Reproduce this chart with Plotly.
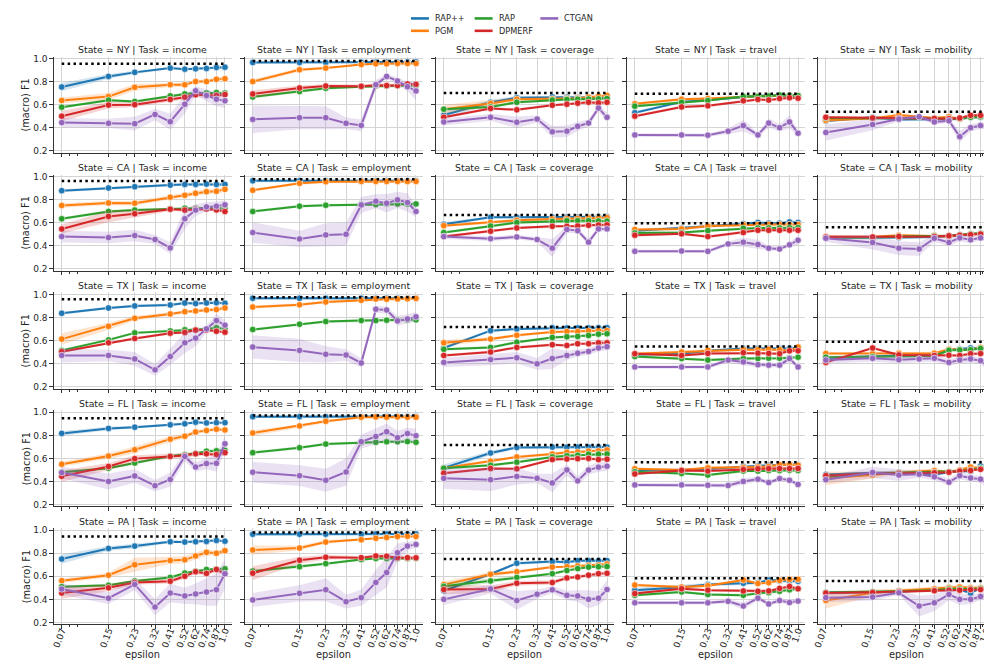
import plotly.graph_objects as go

# ---------------- data ----------------
EPSILON = [0.07, 0.15, 0.23, 0.32, 0.41, 0.52, 0.62, 0.74, 0.87, 1.0]
EPS_LABELS = ["0.07", "0.15", "0.23", "0.32", "0.41", "0.52", "0.62", "0.74", "0.87", "1.0"]
MINOR_TICKS = [0.08, 0.09, 0.2, 0.3, 0.4, 0.5, 0.6, 0.7, 0.8, 0.9]
Y_TICKS = [0.2, 0.4, 0.6, 0.8, 1.0]
Y_LABELS = ["0.2", "0.4", "0.6", "0.8", "1.0"]
STATES = ["NY", "CA", "TX", "FL", "PA"]
TASKS = ["income", "employment", "coverage", "travel", "mobility"]
METHODS = ["RAP++", "PGM", "RAP", "DPMERF", "CTGAN"]
COLORS = {"RAP++": "#1f77b4", "PGM": "#ff7f0e", "RAP": "#2ca02c",
          "DPMERF": "#d62728", "CTGAN": "#9467bd"}
DEFAULT_CI = 0.012
N = None

# baseline (dotted black line), per state, in TASKS order
BASELINE_NY = [0.955, 0.978, 0.700, 0.695, 0.538]
BASELINE_CA = [0.960, 0.975, 0.665, 0.595, 0.560]
BASELINE_TX = [0.958, 0.975, 0.718, 0.548, 0.590]
BASELINE_FL = [0.948, 0.972, 0.717, 0.567, 0.567]
BASELINE_PA = [0.946, 0.980, 0.750, 0.583, 0.560]

# ---- NY ----
NY_INCOME = {
    "RAP++": [0.753, 0.845, 0.880, N, 0.917, 0.908, 0.911, 0.914, 0.923, 0.925],
    "PGM": [0.636, 0.670, 0.750, N, 0.773, 0.773, 0.800, 0.800, 0.820, 0.825],
    "RAP": [0.578, 0.639, 0.627, N, 0.676, 0.693, 0.700, 0.700, 0.705, 0.700],
    "DPMERF": [0.500, 0.596, 0.600, N, 0.645, 0.665, 0.685, 0.680, 0.680, 0.687],
    "CTGAN": [0.444, 0.438, 0.435, 0.515, 0.452, 0.604, 0.720, 0.680, 0.647, 0.633],
}
NY_INCOME_CI = {
    "RAP++": [0.035, 0.02, 0.015, 0, 0.01, 0.01, 0.01, 0.01, 0.01, 0.01],
    "PGM": [0.025, 0.03, 0.03, 0, 0.02, 0.02, 0.015, 0.015, 0.015, 0.015],
    "DPMERF": [0.045, 0.03, 0.02, 0, 0.02, 0.02, 0.02, 0.02, 0.02, 0.02],
    "CTGAN": [0.04, 0.04, 0.06, 0.05, 0.07, 0.08, 0.04, 0.05, 0.06, 0.06],
}
NY_EMPLOYMENT = {
    "RAP++": [0.966, 0.966, 0.966, N, 0.967, 0.967, 0.968, 0.968, 0.969, 0.970],
    "PGM": [0.800, 0.903, 0.917, N, 0.948, 0.954, 0.954, 0.957, 0.958, 0.957],
    "RAP": [0.667, 0.713, 0.742, N, 0.756, 0.762, 0.762, 0.763, 0.764, 0.765],
    "DPMERF": [0.693, 0.745, 0.762, N, 0.759, 0.768, 0.765, 0.765, 0.780, 0.776],
    "CTGAN": [0.472, 0.487, 0.487, 0.438, 0.420, 0.773, 0.845, 0.805, 0.756, 0.719],
}
NY_EMPLOYMENT_CI = {
    "RAP++": 0.008,
    "PGM": [0.02, 0.015, 0.01, 0, 0.008, 0.008, 0.008, 0.008, 0.008, 0.008],
    "DPMERF": [0.03, 0.02, 0.015, 0, 0.015, 0.015, 0.015, 0.015, 0.015, 0.015],
    "CTGAN": [0.12, 0.10, 0.10, 0.05, 0.05, 0.04, 0.02, 0.03, 0.04, 0.08],
}
NY_COVERAGE = {
    "RAP++": [0.510, 0.620, 0.660, N, 0.667, 0.665, 0.663, 0.665, 0.663, 0.665],
    "PGM": [0.560, 0.610, 0.647, N, 0.650, 0.653, 0.655, 0.665, 0.673, 0.680],
    "RAP": [0.560, 0.580, 0.620, N, 0.640, 0.645, 0.647, 0.648, 0.650, 0.653],
    "DPMERF": [0.490, 0.567, 0.555, N, 0.595, 0.604, 0.613, 0.620, 0.615, 0.620],
    "CTGAN": [0.450, 0.490, 0.447, 0.475, 0.364, 0.370, 0.412, 0.440, 0.570, 0.490],
}
NY_COVERAGE_CI = {
    "RAP++": [0.03, 0.02, 0.015, 0, 0.01, 0.01, 0.01, 0.01, 0.01, 0.01],
    "PGM": [0.04, 0.03, 0.015, 0, 0.01, 0.01, 0.01, 0.01, 0.01, 0.01],
    "CTGAN": [0.03, 0.03, 0.05, 0.03, 0.05, 0.05, 0.04, 0.03, 0.03, 0.04],
}
NY_TRAVEL = {
    "RAP++": [0.530, 0.624, 0.640, N, 0.670, 0.676, 0.677, 0.678, 0.680, 0.680],
    "PGM": [0.607, 0.647, 0.653, N, 0.670, 0.672, 0.675, 0.680, 0.682, 0.680],
    "RAP": [0.587, 0.620, 0.636, N, 0.670, 0.670, 0.675, 0.683, 0.680, 0.678],
    "DPMERF": [0.500, 0.580, 0.590, N, 0.633, 0.645, 0.640, 0.653, 0.660, 0.656],
    "CTGAN": [0.337, 0.337, 0.335, 0.370, 0.418, 0.337, 0.440, 0.400, 0.450, 0.352],
}
NY_TRAVEL_CI = {
    "CTGAN": [0.015, 0.015, 0.015, 0.02, 0.05, 0.02, 0.04, 0.03, 0.06, 0.02],
}
NY_MOBILITY = {
    "RAP++": [0.458, 0.490, 0.470, N, 0.470, 0.472, 0.475, 0.490, 0.490, 0.500],
    "PGM": [0.464, 0.480, 0.510, N, 0.484, 0.495, 0.475, 0.500, 0.503, 0.500],
    "RAP": [0.485, 0.485, 0.480, N, 0.478, 0.480, 0.480, 0.490, 0.495, 0.495],
    "DPMERF": [0.490, 0.484, 0.484, N, 0.480, 0.478, 0.484, 0.507, 0.507, 0.500],
    "CTGAN": [0.358, 0.427, 0.475, 0.495, 0.450, 0.460, 0.322, 0.400, 0.418, 0.406],
}
NY_MOBILITY_CI = {
    "CTGAN": [0.07, 0.05, 0.02, 0.02, 0.02, 0.02, 0.05, 0.03, 0.03, 0.02],
}

# ---- CA ----
CA_INCOME = {
    "RAP++": [0.877, 0.900, 0.911, N, 0.925, 0.931, 0.931, 0.934, 0.931, 0.931],
    "PGM": [0.748, 0.770, 0.768, N, 0.820, 0.837, 0.854, 0.868, 0.871, 0.888],
    "RAP": [0.633, 0.696, 0.708, N, 0.719, 0.725, 0.725, 0.727, 0.722, 0.725],
    "DPMERF": [0.544, 0.653, 0.676, N, 0.716, 0.708, 0.716, 0.718, 0.710, 0.696],
    "CTGAN": [0.478, 0.470, 0.487, 0.453, 0.380, 0.633, 0.708, 0.736, 0.742, 0.754],
}
CA_INCOME_CI = {
    "PGM": 0.02,
    "DPMERF": [0.04, 0.05, 0.03, 0, 0.015, 0.015, 0.015, 0.015, 0.015, 0.015],
    "CTGAN": [0.05, 0.05, 0.05, 0.04, 0.05, 0.09, 0.05, 0.04, 0.04, 0.04],
}
CA_EMPLOYMENT = {
    "RAP++": [0.962, 0.962, 0.962, N, 0.962, 0.962, 0.962, 0.963, 0.963, 0.963],
    "PGM": [0.880, 0.940, 0.954, N, 0.957, 0.957, 0.957, 0.957, 0.957, 0.957],
    "RAP": [0.696, 0.742, 0.750, N, 0.756, 0.756, 0.762, 0.762, 0.762, 0.762],
    "CTGAN": [0.513, 0.458, 0.493, 0.498, 0.753, 0.785, 0.768, 0.797, 0.774, 0.696],
}
CA_EMPLOYMENT_CI = {
    "CTGAN": [0.09, 0.07, 0.10, 0.10, 0.07, 0.06, 0.08, 0.07, 0.08, 0.05],
}
CA_COVERAGE = {
    "RAP++": [0.585, 0.645, 0.645, N, 0.645, 0.647, 0.647, 0.647, 0.650, 0.650],
    "PGM": [0.573, 0.600, 0.620, N, 0.630, 0.633, 0.636, 0.640, 0.640, 0.642],
    "RAP": [0.513, 0.570, 0.600, N, 0.610, 0.616, 0.616, 0.616, 0.613, 0.613],
    "DPMERF": [0.480, 0.525, 0.553, N, 0.567, 0.567, 0.570, 0.576, 0.578, 0.580],
    "CTGAN": [0.478, 0.460, 0.475, 0.453, 0.378, 0.540, 0.530, 0.430, 0.545, 0.545],
}
CA_COVERAGE_CI = {
    "RAP++": [0.02, 0.01, 0.01, 0, 0.01, 0.01, 0.01, 0.01, 0.01, 0.01],
    "CTGAN": [0.02, 0.02, 0.02, 0.02, 0.08, 0.03, 0.02, 0.03, 0.02, 0.02],
}
CA_TRAVEL = {
    "RAP++": [0.530, 0.550, 0.567, N, 0.590, 0.600, 0.595, 0.595, 0.605, 0.600],
    "PGM": [0.540, 0.545, 0.570, N, 0.580, 0.583, 0.583, 0.583, 0.583, 0.583],
    "RAP": [0.510, 0.513, 0.530, N, 0.550, 0.553, 0.553, 0.553, 0.555, 0.556],
    "DPMERF": [0.490, 0.503, 0.478, N, 0.513, 0.533, 0.533, 0.533, 0.533, 0.533],
    "CTGAN": [0.350, 0.353, 0.350, 0.415, 0.430, 0.410, 0.378, 0.370, 0.407, 0.447],
}
CA_TRAVEL_CI = {
    "CTGAN": [0.015, 0.015, 0.015, 0.02, 0.04, 0.04, 0.02, 0.02, 0.02, 0.04],
}
CA_MOBILITY = {
    "RAP++": [0.470, 0.467, 0.470, N, 0.475, 0.480, 0.490, 0.500, 0.505, 0.512],
    "PGM": [0.480, 0.475, 0.490, N, 0.487, 0.480, 0.495, 0.500, 0.500, 0.510],
    "RAP": [0.470, 0.470, 0.480, N, 0.485, 0.485, 0.495, 0.500, 0.505, 0.510],
    "DPMERF": [0.475, 0.475, 0.480, N, 0.480, 0.485, 0.490, 0.495, 0.500, 0.505],
    "CTGAN": [0.464, 0.427, 0.378, 0.370, 0.464, 0.427, 0.467, 0.450, 0.467, 0.455],
}
CA_MOBILITY_CI = {
    "CTGAN": [0.03, 0.06, 0.06, 0.06, 0.03, 0.03, 0.03, 0.03, 0.02, 0.02],
}

# ---- TX ----
TX_INCOME = {
    "RAP++": [0.836, 0.882, 0.900, N, 0.908, 0.925, 0.920, 0.925, 0.928, 0.922],
    "PGM": [0.612, 0.723, 0.792, N, 0.830, 0.850, 0.856, 0.865, 0.868, 0.882],
    "RAP": [0.514, 0.605, 0.666, N, 0.683, 0.693, 0.693, 0.700, 0.710, 0.700],
    "DPMERF": [0.503, 0.580, 0.617, N, 0.663, 0.670, 0.690, 0.690, 0.680, 0.672],
    "CTGAN": [0.470, 0.470, 0.440, 0.345, 0.460, 0.580, 0.620, 0.700, 0.773, 0.733],
}
TX_INCOME_CI = {
    "PGM": [0.05, 0.03, 0.02, 0, 0.015, 0.015, 0.015, 0.015, 0.015, 0.015],
    "CTGAN": [0.06, 0.05, 0.06, 0.05, 0.07, 0.09, 0.07, 0.03, 0.06, 0.04],
}
TX_EMPLOYMENT = {
    "RAP++": [0.966, 0.966, 0.966, N, 0.966, 0.966, 0.967, 0.967, 0.967, 0.967],
    "PGM": [0.890, 0.910, 0.934, N, 0.948, 0.960, 0.958, 0.960, 0.962, 0.965],
    "RAP": [0.695, 0.741, 0.764, N, 0.773, 0.773, 0.776, 0.777, 0.778, 0.779],
    "CTGAN": [0.543, 0.514, 0.480, 0.474, 0.405, 0.871, 0.865, 0.770, 0.787, 0.805],
}
TX_EMPLOYMENT_CI = {
    "CTGAN": [0.10, 0.10, 0.07, 0.05, 0.04, 0.03, 0.03, 0.04, 0.04, 0.04],
}
TX_COVERAGE = {
    "RAP++": [0.535, 0.685, 0.700, N, 0.710, 0.708, 0.708, 0.708, 0.710, 0.710],
    "PGM": [0.580, 0.613, 0.645, N, 0.673, 0.677, 0.677, 0.683, 0.685, 0.685],
    "RAP": [0.523, 0.540, 0.585, N, 0.626, 0.632, 0.635, 0.643, 0.655, 0.658],
    "DPMERF": [0.470, 0.500, 0.540, N, 0.563, 0.557, 0.572, 0.572, 0.580, 0.580],
    "CTGAN": [0.410, 0.434, 0.450, 0.397, 0.443, 0.470, 0.490, 0.505, 0.535, 0.546],
}
TX_COVERAGE_CI = {
    "PGM": [0.025, 0.015, 0.012, 0, 0.01, 0.01, 0.01, 0.01, 0.01, 0.01],
    "CTGAN": [0.04, 0.05, 0.05, 0.05, 0.09, 0.04, 0.03, 0.03, 0.03, 0.03],
}
TX_TRAVEL = {
    "RAP++": [0.478, 0.485, 0.510, N, 0.530, 0.530, 0.530, 0.530, 0.530, 0.540],
    "PGM": [0.485, 0.500, 0.515, N, 0.520, 0.520, 0.523, 0.520, 0.510, 0.543],
    "RAP": [0.460, 0.443, 0.430, N, 0.443, 0.443, 0.446, 0.446, 0.450, 0.455],
    "DPMERF": [0.485, 0.470, 0.488, N, 0.494, 0.490, 0.488, 0.485, 0.510, 0.510],
    "CTGAN": [0.370, 0.370, 0.370, 0.430, 0.414, 0.390, 0.386, 0.386, 0.443, 0.370],
}
TX_TRAVEL_CI = {
    "CTGAN": [0.015, 0.015, 0.015, 0.02, 0.03, 0.02, 0.02, 0.02, 0.03, 0.02],
}
TX_MOBILITY = {
    "RAP++": [0.447, 0.465, 0.470, N, 0.470, 0.520, 0.525, 0.535, 0.532, 0.530],
    "PGM": [0.486, 0.486, 0.490, N, 0.490, 0.523, 0.520, 0.517, 0.540, 0.530],
    "RAP": [0.455, 0.458, 0.465, N, 0.465, 0.515, 0.518, 0.520, 0.530, 0.530],
    "DPMERF": [0.410, 0.535, 0.475, N, 0.470, 0.472, 0.470, 0.485, 0.486, 0.486],
    "CTGAN": [0.430, 0.445, 0.433, 0.440, 0.445, 0.410, 0.430, 0.440, 0.425, 0.370],
}
TX_MOBILITY_CI = {
    "CTGAN": [0.03, 0.03, 0.03, 0.03, 0.03, 0.03, 0.03, 0.03, 0.03, 0.05],
}

# ---- FL ----
FL_INCOME = {
    "RAP++": [0.817, 0.860, 0.871, N, 0.891, 0.900, 0.914, 0.908, 0.910, 0.910],
    "PGM": [0.550, 0.620, 0.675, N, 0.767, 0.793, 0.828, 0.842, 0.853, 0.847],
    "RAP": [0.480, 0.515, 0.560, N, 0.620, 0.634, 0.643, 0.663, 0.666, 0.670],
    "DPMERF": [0.445, 0.530, 0.598, N, 0.617, 0.626, 0.640, 0.640, 0.634, 0.650],
    "CTGAN": [0.477, 0.400, 0.448, 0.363, 0.417, 0.617, 0.525, 0.555, 0.557, 0.727],
}
FL_INCOME_CI = {
    "RAP++": [0.02, 0.015, 0.012, 0, 0.01, 0.01, 0.01, 0.01, 0.01, 0.01],
    "PGM": [0.02, 0.025, 0.03, 0, 0.025, 0.02, 0.015, 0.015, 0.015, 0.015],
    "DPMERF": [0.05, 0.03, 0.03, 0, 0.02, 0.02, 0.02, 0.02, 0.02, 0.02],
    "CTGAN": [0.05, 0.07, 0.06, 0.05, 0.06, 0.04, 0.04, 0.05, 0.07, 0.07],
}
FL_EMPLOYMENT = {
    "RAP++": [0.962, 0.962, 0.962, N, 0.962, 0.962, 0.963, 0.963, 0.963, 0.963],
    "PGM": [0.820, 0.882, 0.922, N, 0.957, 0.960, 0.958, 0.960, 0.958, 0.957],
    "RAP": [0.650, 0.693, 0.724, N, 0.738, 0.740, 0.744, 0.744, 0.746, 0.740],
    "CTGAN": [0.480, 0.450, 0.410, 0.482, 0.745, 0.790, 0.832, 0.780, 0.815, 0.797],
}
FL_EMPLOYMENT_CI = {
    "PGM": [0.025, 0.015, 0.012, 0, 0.008, 0.008, 0.008, 0.008, 0.008, 0.008],
    "CTGAN": [0.09, 0.09, 0.10, 0.12, 0.06, 0.07, 0.07, 0.06, 0.05, 0.06],
}
FL_COVERAGE = {
    "RAP++": [0.518, 0.647, 0.695, N, 0.698, 0.697, 0.698, 0.698, 0.698, 0.698],
    "PGM": [0.515, 0.575, 0.613, N, 0.638, 0.653, 0.655, 0.663, 0.665, 0.673],
    "RAP": [0.515, 0.540, 0.567, N, 0.613, 0.622, 0.627, 0.636, 0.637, 0.638],
    "DPMERF": [0.472, 0.512, 0.510, N, 0.590, 0.595, 0.598, 0.600, 0.590, 0.593],
    "CTGAN": [0.427, 0.415, 0.444, 0.427, 0.387, 0.500, 0.405, 0.499, 0.524, 0.532],
}
FL_COVERAGE_CI = {
    "RAP++": [0.03, 0.02, 0.012, 0, 0.01, 0.01, 0.01, 0.01, 0.01, 0.01],
    "CTGAN": [0.09, 0.10, 0.07, 0.04, 0.08, 0.05, 0.04, 0.04, 0.04, 0.04],
}
FL_TRAVEL = {
    "RAP++": [0.500, 0.500, 0.507, N, 0.530, 0.535, 0.540, 0.540, 0.547, 0.545],
    "PGM": [0.510, 0.500, 0.518, N, 0.520, 0.525, 0.530, 0.545, 0.547, 0.540],
    "RAP": [0.484, 0.470, 0.455, N, 0.490, 0.490, 0.495, 0.495, 0.498, 0.496],
    "DPMERF": [0.465, 0.496, 0.490, N, 0.505, 0.510, 0.512, 0.512, 0.512, 0.513],
    "CTGAN": [0.370, 0.370, 0.367, 0.365, 0.400, 0.420, 0.390, 0.425, 0.410, 0.374],
}
FL_TRAVEL_CI = {
    "CTGAN": [0.015, 0.015, 0.015, 0.02, 0.03, 0.02, 0.02, 0.02, 0.02, 0.02],
}
FL_MOBILITY = {
    "RAP++": [0.460, 0.475, 0.475, N, 0.460, 0.480, 0.490, 0.488, 0.533, 0.530],
    "PGM": [0.427, 0.455, 0.478, N, 0.496, 0.483, 0.500, 0.525, 0.515, 0.490],
    "RAP": [0.440, 0.470, 0.475, N, 0.480, 0.485, 0.490, 0.500, 0.515, 0.520],
    "DPMERF": [0.450, 0.470, 0.470, N, 0.475, 0.480, 0.490, 0.495, 0.505, 0.510],
    "CTGAN": [0.415, 0.478, 0.455, 0.463, 0.440, 0.394, 0.450, 0.430, 0.420, 0.377],
}
FL_MOBILITY_CI = {
    "PGM": [0.06, 0.03, 0.02, 0, 0.015, 0.015, 0.015, 0.015, 0.015, 0.015],
    "CTGAN": [0.03, 0.05, 0.05, 0.03, 0.03, 0.03, 0.03, 0.03, 0.03, 0.05],
}

# ---- PA ----
PA_INCOME = {
    "RAP++": [0.750, 0.842, 0.862, N, 0.900, 0.897, 0.900, 0.903, 0.911, 0.905],
    "PGM": [0.562, 0.610, 0.700, N, 0.737, 0.743, 0.777, 0.808, 0.800, 0.822],
    "RAP": [0.510, 0.522, 0.560, N, 0.590, 0.628, 0.643, 0.660, 0.663, 0.665],
    "DPMERF": [0.455, 0.500, 0.547, N, 0.557, 0.600, 0.640, 0.625, 0.660, 0.622],
    "CTGAN": [0.490, 0.410, 0.530, 0.333, 0.455, 0.430, 0.447, 0.464, 0.484, 0.622],
}
PA_INCOME_CI = {
    "RAP++": [0.04, 0.02, 0.02, 0, 0.01, 0.01, 0.01, 0.01, 0.01, 0.01],
    "PGM": [0.02, 0.02, 0.06, 0, 0.03, 0.03, 0.03, 0.03, 0.02, 0.02],
    "DPMERF": [0.05, 0.03, 0.02, 0, 0.02, 0.02, 0.02, 0.02, 0.02, 0.02],
    "CTGAN": [0.05, 0.05, 0.05, 0.07, 0.08, 0.07, 0.09, 0.12, 0.14, 0.13],
}
PA_EMPLOYMENT = {
    "RAP++": [0.965, 0.965, 0.966, N, 0.966, 0.967, 0.967, 0.967, 0.968, 0.968],
    "PGM": [0.828, 0.845, 0.897, N, 0.917, 0.930, 0.937, 0.946, 0.948, 0.946],
    "RAP": [0.645, 0.683, 0.710, N, 0.746, 0.755, 0.755, 0.755, 0.755, 0.755],
    "DPMERF": [0.627, 0.740, 0.765, N, 0.762, 0.777, 0.774, 0.762, 0.762, 0.760],
    "CTGAN": [0.395, 0.452, 0.484, 0.380, 0.415, 0.547, 0.633, 0.805, 0.862, 0.877],
}
PA_EMPLOYMENT_CI = {
    "PGM": [0.04, 0.02, 0.015, 0, 0.01, 0.01, 0.01, 0.01, 0.01, 0.01],
    "DPMERF": [0.06, 0.03, 0.02, 0, 0.015, 0.015, 0.015, 0.015, 0.015, 0.015],
    "CTGAN": [0.06, 0.07, 0.10, 0.06, 0.07, 0.11, 0.13, 0.08, 0.04, 0.03],
}
PA_COVERAGE = {
    "RAP++": [0.475, 0.620, 0.713, N, 0.728, 0.722, 0.736, 0.736, 0.736, 0.736],
    "PGM": [0.528, 0.617, 0.640, N, 0.680, 0.683, 0.690, 0.693, 0.697, 0.707],
    "RAP": [0.513, 0.560, 0.590, N, 0.623, 0.650, 0.667, 0.680, 0.683, 0.685],
    "DPMERF": [0.485, 0.490, 0.540, N, 0.546, 0.586, 0.594, 0.610, 0.623, 0.626],
    "CTGAN": [0.400, 0.490, 0.390, 0.445, 0.483, 0.435, 0.430, 0.400, 0.410, 0.485],
}
PA_COVERAGE_CI = {
    "PGM": [0.03, 0.02, 0.015, 0, 0.01, 0.01, 0.01, 0.01, 0.01, 0.01],
    "RAP": [0.03, 0.02, 0.015, 0, 0.01, 0.01, 0.01, 0.01, 0.01, 0.01],
    "DPMERF": [0.04, 0.03, 0.02, 0, 0.02, 0.015, 0.015, 0.015, 0.015, 0.015],
    "CTGAN": [0.05, 0.04, 0.08, 0.04, 0.03, 0.04, 0.05, 0.08, 0.06, 0.08],
}
PA_TRAVEL = {
    "RAP++": [0.480, 0.505, 0.528, N, 0.540, 0.545, 0.567, 0.560, 0.560, 0.557],
    "PGM": [0.524, 0.507, 0.518, N, 0.568, 0.537, 0.545, 0.565, 0.574, 0.574],
    "RAP": [0.435, 0.464, 0.443, N, 0.435, 0.452, 0.458, 0.470, 0.483, 0.490],
    "DPMERF": [0.450, 0.492, 0.480, N, 0.473, 0.470, 0.473, 0.495, 0.512, 0.492],
    "CTGAN": [0.370, 0.370, 0.370, 0.383, 0.342, 0.410, 0.360, 0.390, 0.372, 0.385],
}
PA_TRAVEL_CI = {
    "RAP++": [0.02, 0.02, 0.015, 0, 0.015, 0.015, 0.015, 0.015, 0.015, 0.015],
    "CTGAN": [0.015, 0.015, 0.015, 0.02, 0.03, 0.02, 0.02, 0.02, 0.02, 0.02],
}
PA_MOBILITY = {
    "RAP++": [0.460, 0.460, 0.466, N, 0.486, 0.500, 0.483, 0.455, 0.497, 0.486],
    "PGM": [0.390, 0.457, 0.475, N, 0.493, 0.500, 0.507, 0.500, 0.500, 0.500],
    "RAP": [0.460, 0.465, 0.470, N, 0.480, 0.490, 0.490, 0.490, 0.495, 0.493],
    "DPMERF": [0.455, 0.460, 0.465, N, 0.475, 0.480, 0.480, 0.485, 0.485, 0.485],
    "CTGAN": [0.415, 0.420, 0.457, 0.342, 0.370, 0.443, 0.400, 0.400, 0.425, 0.445],
}
PA_MOBILITY_CI = {
    "PGM": [0.07, 0.03, 0.02, 0, 0.015, 0.015, 0.015, 0.015, 0.015, 0.015],
    "CTGAN": [0.04, 0.03, 0.02, 0.09, 0.07, 0.05, 0.05, 0.04, 0.03, 0.03],
}

# tables assembled from the named arrays above
PANELS = {
    "NY": [(NY_INCOME, NY_INCOME_CI), (NY_EMPLOYMENT, NY_EMPLOYMENT_CI), (NY_COVERAGE, NY_COVERAGE_CI),
           (NY_TRAVEL, NY_TRAVEL_CI), (NY_MOBILITY, NY_MOBILITY_CI)],
    "CA": [(CA_INCOME, CA_INCOME_CI), (CA_EMPLOYMENT, CA_EMPLOYMENT_CI), (CA_COVERAGE, CA_COVERAGE_CI),
           (CA_TRAVEL, CA_TRAVEL_CI), (CA_MOBILITY, CA_MOBILITY_CI)],
    "TX": [(TX_INCOME, TX_INCOME_CI), (TX_EMPLOYMENT, TX_EMPLOYMENT_CI), (TX_COVERAGE, TX_COVERAGE_CI),
           (TX_TRAVEL, TX_TRAVEL_CI), (TX_MOBILITY, TX_MOBILITY_CI)],
    "FL": [(FL_INCOME, FL_INCOME_CI), (FL_EMPLOYMENT, FL_EMPLOYMENT_CI), (FL_COVERAGE, FL_COVERAGE_CI),
           (FL_TRAVEL, FL_TRAVEL_CI), (FL_MOBILITY, FL_MOBILITY_CI)],
    "PA": [(PA_INCOME, PA_INCOME_CI), (PA_EMPLOYMENT, PA_EMPLOYMENT_CI), (PA_COVERAGE, PA_COVERAGE_CI),
           (PA_TRAVEL, PA_TRAVEL_CI), (PA_MOBILITY, PA_MOBILITY_CI)],
}
BASELINES = {"NY": BASELINE_NY, "CA": BASELINE_CA, "TX": BASELINE_TX,
             "FL": BASELINE_FL, "PA": BASELINE_PA}

# ---------------- layout geometry (pixels) ----------------
W, H = 992, 660
COL_X0, COL_STEP, PANEL_W = 41, 192, 179
ROW_Y0, ROW_STEP, PANEL_H = 46, 119, 97
X_RANGE = [-1.211, 0.049]
Y_RANGE = [0.183, 1.017]
FONT = "DejaVu Sans"
TXT = "#262626"
GRID = "#d4d4d4"
SPINE = "#333333"


def rgba(hexc, a):
    h = hexc.lstrip("#")
    return "rgba(%d,%d,%d,%.2f)" % (int(h[0:2], 16), int(h[2:4], 16), int(h[4:6], 16), a)


def px_x(p):
    return p / W


def px_y(p):
    return 1 - p / H


fig = go.Figure()
annotations = []
shapes = []
layout_axes = {}

for r, state in enumerate(STATES):
    for c, task in enumerate(TASKS):
        k = r * 5 + c + 1
        xname = "x" if k == 1 else "x%d" % k
        yname = "y" if k == 1 else "y%d" % k
        left = COL_X0 + c * COL_STEP
        top = ROW_Y0 + r * ROW_STEP
        means, cis = PANELS[state][c]

        for m in METHODS:
            vals = means.get(m)
            if vals is None:
                continue
            ci = cis.get(m, DEFAULT_CI)
            if not isinstance(ci, list):
                ci = [ci] * len(vals)
            xs, ys, lo, hi = [], [], [], []
            for e, v, w in zip(EPSILON, vals, ci):
                if v is None:
                    continue
                xs.append(e)
                ys.append(v)
                lo.append(v - w)
                hi.append(v + w)
            fig.add_trace(go.Scatter(
                x=xs + xs[::-1], y=hi + lo[::-1], xaxis=xname, yaxis=yname,
                mode="lines", fill="toself", fillcolor=rgba(COLORS[m], 0.2),
                line=dict(width=0, color=rgba(COLORS[m], 0)), hoverinfo="skip",
                showlegend=False))
            fig.add_trace(go.Scatter(
                x=xs, y=ys, xaxis=xname, yaxis=yname, mode="lines+markers",
                line=dict(color=COLORS[m], width=2),
                marker=dict(color=COLORS[m], size=6.5, line=dict(width=0.6, color="white")),
                name=m, legendgroup=m, showlegend=False))

        b = BASELINES[state][c]
        fig.add_trace(go.Scatter(
            x=[EPSILON[0], EPSILON[-1]], y=[b, b], xaxis=xname, yaxis=yname,
            mode="lines", line=dict(color="black", width=2.5, dash="2.5px,3.4px"),
            showlegend=False, hoverinfo="skip"))

        layout_axes["xaxis" if k == 1 else "xaxis%d" % k] = dict(
            domain=[px_x(left), px_x(left + PANEL_W)], anchor=yname, type="log",
            range=X_RANGE, tickmode="array", tickvals=EPSILON, ticktext=EPS_LABELS,
            showticklabels=(r == 4), tickangle=-70, ticks="outside", ticklen=3.5,
            tickwidth=0.8, tickcolor=SPINE, showgrid=True, gridcolor=GRID, gridwidth=0.8,
            showline=True, linecolor=SPINE, linewidth=1, zeroline=False,
            ticklabelstandoff=-7, ticklabelshift=(-3 if c == 4 else 0),
            tickfont=dict(family=FONT, size=9, color=TXT),
            minor=dict(tickmode="array", tickvals=MINOR_TICKS, ticks="outside", ticklen=2,
                       tickwidth=0.6, tickcolor=SPINE, showgrid=False),
        )
        layout_axes["yaxis" if k == 1 else "yaxis%d" % k] = dict(
            domain=[px_y(top + PANEL_H), px_y(top)], anchor=xname, range=Y_RANGE,
            tickmode="array", tickvals=Y_TICKS, ticktext=Y_LABELS,
            showticklabels=(c == 0), ticks="outside", ticklen=3.5, tickwidth=0.8,
            tickcolor=SPINE, showgrid=True, gridcolor=GRID, gridwidth=0.8,
            showline=True, linecolor=SPINE, linewidth=1, zeroline=False,
            tickfont=dict(family=FONT, size=9, color=TXT),
        )

        annotations.append(dict(
            text="State = %s | Task = %s" % (state, task), xref="paper", yref="paper",
            x=px_x(left + PANEL_W / 2), y=px_y(top - 7), xanchor="center", yanchor="middle",
            showarrow=False, font=dict(family=FONT, size=9.4, color=TXT)))
        if c == 0:
            annotations.append(dict(
                text="(macro) F1", xref="paper", yref="paper", x=px_x(13),
                y=px_y(top + PANEL_H / 2), xanchor="center", yanchor="middle",
                textangle=-90, showarrow=False, font=dict(family=FONT, size=9.8, color=TXT)))
        if r == 4:
            annotations.append(dict(
                text="epsilon", xref="paper", yref="paper", x=px_x(left + PANEL_W / 2),
                y=px_y(649), xanchor="center", yanchor="middle", showarrow=False,
                font=dict(family=FONT, size=9.8, color=TXT)))

# legend (3 columns, column-major order like the reference)
LEG_COLS = [["RAP++", "PGM"], ["RAP", "DPMERF"], ["CTGAN"]]
LEG_X = [400, 464, 530]
LEG_Y = [7.5, 20]
for ci_, col in enumerate(LEG_COLS):
    for ri_, m in enumerate(col):
        x0 = LEG_X[ci_]
        y = LEG_Y[ri_]
        shapes.append(dict(type="line", xref="paper", yref="paper",
                           x0=px_x(x0), x1=px_x(x0 + 18), y0=px_y(y), y1=px_y(y),
                           line=dict(color=COLORS[m], width=2.6)))
        annotations.append(dict(text=m, xref="paper", yref="paper", x=px_x(x0 + 22),
                                y=px_y(y), xanchor="left", yanchor="middle", showarrow=False,
                                font=dict(family=FONT, size=8.2, color=TXT)))

fig.update_layout(
    width=W, height=H, margin=dict(l=0, r=0, t=0, b=0),
    paper_bgcolor="white", plot_bgcolor="white", showlegend=False,
    annotations=annotations, shapes=shapes, font=dict(family=FONT, color=TXT),
    **layout_axes)

fig.write_html("out.html")
